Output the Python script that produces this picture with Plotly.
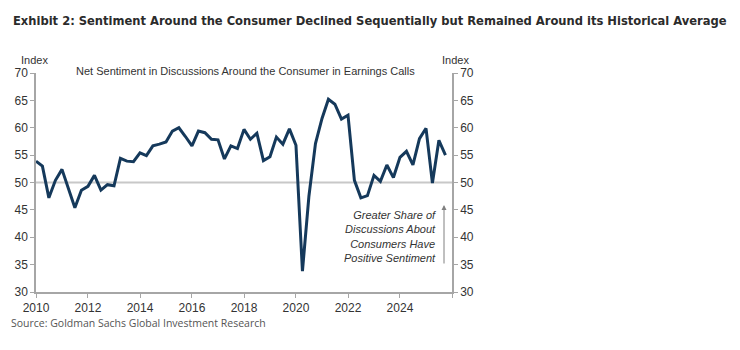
import plotly.graph_objects as go
import pandas as pd

quarters = pd.date_range("2010-01-01", periods=64, freq="QS")
sentiment = [
    53.9, 53.0, 47.2, 50.4,
    52.4, 48.9, 45.4, 48.6,
    49.3, 51.3, 48.6, 49.6,
    49.4, 54.4, 53.9, 53.8,
    55.4, 54.9, 56.7, 57.0,
    57.4, 59.4, 60.0, 58.4,
    56.7, 59.4, 59.1, 57.9,
    57.8, 54.3, 56.7, 56.2,
    59.7, 57.9, 59.0, 54.0,
    54.7, 58.3, 57.0, 59.8,
    56.8, 33.8, 47.5, 57.1,
    61.7, 65.2, 64.3, 61.6,
    62.3, 50.4, 47.2, 47.6,
    51.3, 50.2, 53.2, 50.9,
    54.6, 55.7, 53.2, 58.0,
    59.9, 49.9, 57.7, 55.0,
]
x_ticks = ["2010", "2012", "2014", "2016", "2018", "2020", "2022", "2024", "2026"]
x_labels = ["2010", "2012", "2014", "2016", "2018", "2020", "2022", "2024", ""]
y_ticks = [30, 35, 40, 45, 50, 55, 60, 65, 70]

AX = "#a6a6a6"
TXT = "#333333"
FONT = "Liberation Sans"

L, R, T, B = 36, 288, 73, 58
PW, PH = 740 - L - R, 350 - T - B


def px(x):
    return (x - L) / PW


def py(y):
    return (350 - B - y) / PH


fig = go.Figure()
fig.add_trace(go.Scatter(x=quarters, y=sentiment, mode="lines",
                         line=dict(color="#15395b", width=3), hoverinfo="skip"))
fig.add_trace(go.Scatter(x=quarters, y=sentiment, mode="lines", yaxis="y2",
                         line=dict(color="rgba(0,0,0,0)", width=0), hoverinfo="skip"))

fig.add_shape(type="line", xref="paper", yref="y", x0=0, x1=1, y0=50, y1=50,
              line=dict(color="#c8c8c8", width=2), layer="below")

tick_dates = [pd.Timestamp(f"{t}-01-01") for t in x_ticks]

fig.update_layout(
    width=740, height=350,
    margin=dict(l=L, r=R, t=T, b=B),
    paper_bgcolor="white", plot_bgcolor="white",
    showlegend=False,
    font=dict(family=FONT, size=11, color=TXT),
    xaxis=dict(type="date", range=[pd.Timestamp("2010-01-01"), pd.Timestamp("2026-01-01")],
               tickvals=tick_dates, ticktext=x_labels,
               showline=True, linecolor=AX, linewidth=1.5,
               ticks="outside", ticklen=4, tickcolor=AX,
               showgrid=False, zeroline=False,
               tickfont=dict(family=FONT, size=12, color=TXT)),
    yaxis=dict(range=[30, 70], tickvals=y_ticks,
               showline=True, linecolor=AX, linewidth=1.5,
               ticks="outside", ticklen=4, tickcolor=AX,
               showgrid=False, zeroline=False,
               tickfont=dict(family=FONT, size=12, color=TXT)),
    yaxis2=dict(range=[30, 70], tickvals=y_ticks, overlaying="y", side="right",
                anchor="x", showline=True, linecolor=AX, linewidth=1.5,
                ticks="outside", ticklen=4, tickcolor=AX,
                showgrid=False, zeroline=False,
                tickfont=dict(family=FONT, size=12, color=TXT)),
)

fig.add_annotation(xref="paper", yref="paper", x=px(11), y=py(20),
                   xanchor="left", yanchor="middle", showarrow=False,
                   text="<b>Exhibit 2: Sentiment Around the Consumer Declined Sequentially but Remained Around its Historical Average</b>",
                   font=dict(family="DejaVu Sans Condensed, Liberation Sans Narrow, Roboto", size=12.8, color="#2b2b2b"))
fig.add_annotation(xref="paper", yref="paper", x=px(34), y=py(60),
                   xanchor="center", yanchor="middle", showarrow=False,
                   text="Index", font=dict(family=FONT, size=11, color=TXT))
fig.add_annotation(xref="paper", yref="paper", x=px(455), y=py(60),
                   xanchor="center", yanchor="middle", showarrow=False,
                   text="Index", font=dict(family=FONT, size=11, color=TXT))
fig.add_annotation(xref="paper", yref="paper", x=px(245), y=py(71),
                   xanchor="center", yanchor="middle", showarrow=False,
                   text="Net Sentiment in Discussions Around the Consumer in Earnings Calls",
                   font=dict(family=FONT, size=11, color=TXT))
fig.add_annotation(xref="paper", yref="paper", x=px(438), y=py(236),
                   xanchor="right", yanchor="middle", align="right", showarrow=False,
                   text="<i>Greater Share of<br>Discussions About<br>Consumers Have<br>Positive Sentiment</i>",
                   font=dict(family=FONT, size=11, color=TXT))
fig.add_annotation(xref="paper", yref="paper", axref="pixel", ayref="pixel",
                   x=px(444), y=py(205), ax=0, ay=60,
                   showarrow=True, arrowhead=2, arrowsize=1, arrowwidth=1,
                   arrowcolor="#808080", text="")
fig.add_annotation(xref="paper", yref="paper", x=px(9), y=py(323),
                   xanchor="left", yanchor="middle", showarrow=False,
                   text="Source: Goldman Sachs Global Investment Research",
                   font=dict(family="Open Sans", size=10.5, color="#555555"))

fig.write_html("out.html")
